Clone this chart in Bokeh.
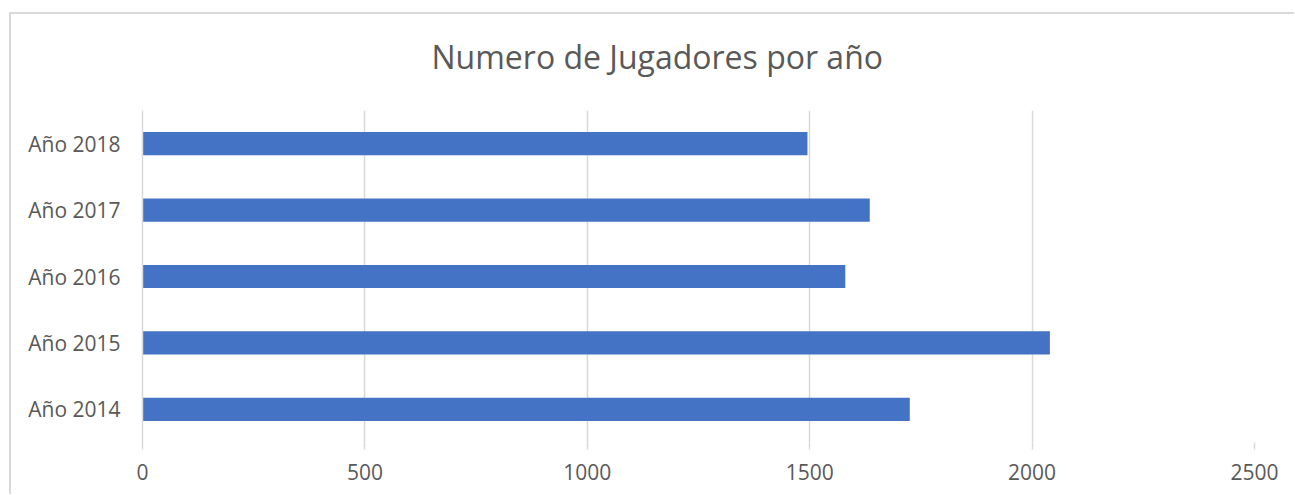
from bokeh.plotting import figure
from bokeh.models import Range1d, FactorRange, FixedTicker
from bokeh.embed import file_html
from bokeh.resources import INLINE

# ---- data ----
years = ["Año 2014", "Año 2015", "Año 2016", "Año 2017", "Año 2018"]
players = [1725, 2040, 1580, 1635, 1495]
x_ticks = [0, 500, 1000, 1500, 2000, 2500]
title_text = "Numero de Jugadores por año"

TEXT = "#595959"
GRID = "#d9d9d9"
BAR = "#4472c4"

p = figure(width=1294, height=494, output_backend="svg", toolbar_location=None,
           y_range=FactorRange(factors=years, range_padding=0),
           x_range=Range1d(0, 2500),
           min_border_left=142, min_border_right=40,
           min_border_top=110, min_border_bottom=52,
           title=title_text)
# chart-area border (top and left edges), drawn behind a transparent canvas border
p.styles = {
    "background": ("linear-gradient(#d9d9d9,#d9d9d9) 9px 12px / 1300px 2px no-repeat, "
                   "linear-gradient(#d9d9d9,#d9d9d9) 9px 12px / 2px 500px no-repeat, white"),
}

p.hbar(y=years, left=0, right=players, height=0.35,
       fill_color=BAR, line_color=None)

p.title.text_font = "Open Sans"
p.title.text_font_size = "32px"
p.title.text_font_style = "normal"
p.title.text_color = TEXT
p.title.align = "left"
p.title.vertical_align = "top"
p.title.offset = 289
p.title.standoff = 62

p.outline_line_color = None
p.background_fill_color = "white"
p.border_fill_alpha = 0

# x axis
p.xaxis.ticker = FixedTicker(ticks=x_ticks)
p.xaxis.axis_line_color = None
p.xaxis.major_tick_line_color = GRID
p.xaxis.major_tick_line_width = 1.5
p.xaxis.major_tick_out = 7
p.xaxis.major_tick_in = 0
p.xaxis.minor_tick_line_color = None
p.xaxis.major_label_standoff = 14
p.xaxis.major_label_text_font = "Open Sans"
p.xaxis.major_label_text_font_size = "21px"
p.xaxis.major_label_text_color = TEXT

p.xgrid.grid_line_color = GRID
p.xgrid.grid_line_width = 1.5
p.ygrid.grid_line_color = None

# y axis
p.yaxis.axis_line_color = GRID
p.yaxis.axis_line_width = 1.5
p.yaxis.major_tick_line_color = None
p.yaxis.minor_tick_line_color = None
p.yaxis.major_label_standoff = 16
p.yaxis.major_label_text_font = "Open Sans"
p.yaxis.major_label_text_font_size = "21px"
p.yaxis.major_label_text_color = TEXT

open("out.html", "w").write(file_html(p, INLINE))
